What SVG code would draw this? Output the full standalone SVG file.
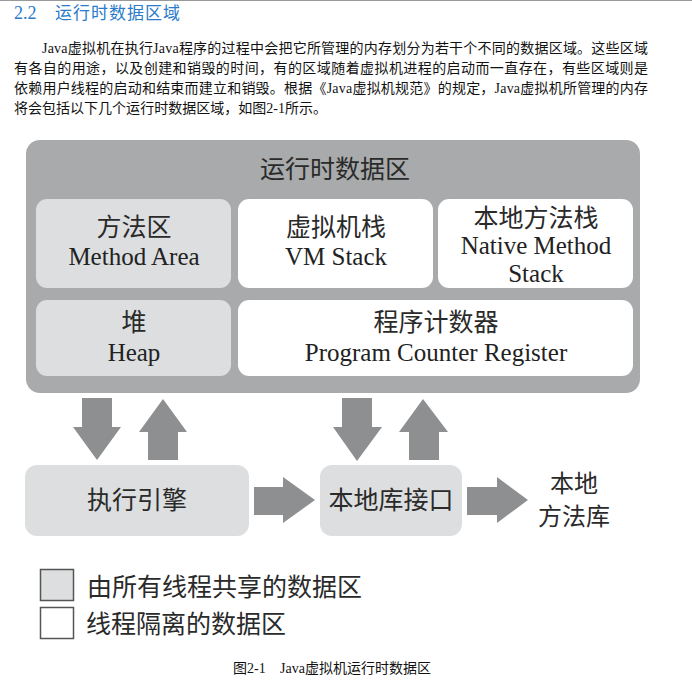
<svg xmlns="http://www.w3.org/2000/svg" width="692" height="686" viewBox="0 0 692 686">
<style>
.serif{font-family:"Liberation Serif","Noto Sans CJK SC",serif;fill:#222}
.cjk{font-family:"Noto Sans CJK SC",sans-serif;fill:#2a2a2a}
.para{font-family:"Liberation Serif","Noto Sans CJK SC",serif;font-size:14px;fill:#111}
.lbl{font-size:25px;text-anchor:middle}
.shared{fill:#dcdedf}
.private{fill:#ffffff}
.arrow{fill:#8e8f91}
</style>
<rect width="692" height="686" fill="#ffffff"/>
<line x1="0" y1="0.5" x2="692" y2="0.5" stroke="#999" stroke-width="1"/>
<g id="header">
<text x="14" y="19" font-family="Liberation Serif,serif" font-size="18" fill="#2b7bcc">2.2</text>
<text x="55" y="19" font-family="Noto Sans CJK SC,sans-serif" font-size="17" fill="#2b7bcc" letter-spacing="1">运行时数据区域</text>
</g>
<g id="paragraph" class="para">
<text x="42" y="53" textLength="606" lengthAdjust="spacing">Java虚拟机在执行Java程序的过程中会把它所管理的内存划分为若干个不同的数据区域。这些区域</text>
<text x="14" y="73" textLength="634" lengthAdjust="spacing">有各自的用途，以及创建和销毁的时间，有的区域随着虚拟机进程的启动而一直存在，有些区域则是</text>
<text x="14" y="93" textLength="634" lengthAdjust="spacing">依赖用户线程的启动和结束而建立和销毁。根据《Java虚拟机规范》的规定，Java虚拟机所管理的内存</text>
<text x="14" y="113" textLength="313" lengthAdjust="spacing">将会包括以下几个运行时数据区域，如图2-1所示。</text>
</g>
<g id="runtime-data-area">
<rect x="26" y="140" width="614" height="253" rx="14" fill="#a8aaac"/>
<text class="cjk lbl" x="335" y="178">运行时数据区</text>
</g>
<g id="method-area">
<rect class="shared" x="36" y="199" width="195" height="89" rx="11"/>
<text class="cjk lbl" x="134" y="236">方法区</text>
<text class="serif lbl" x="134" y="265">Method Area</text>
</g>
<g id="vm-stack">
<rect class="private" x="238" y="199" width="195" height="89" rx="11"/>
<text class="cjk lbl" x="336" y="236">虚拟机栈</text>
<text class="serif lbl" x="336" y="265">VM Stack</text>
</g>
<g id="native-method-stack">
<rect class="private" x="438" y="199" width="195" height="89" rx="11"/>
<text class="cjk lbl" x="536" y="227">本地方法栈</text>
<text class="serif lbl" x="536" y="254">Native Method</text>
<text class="serif lbl" x="536" y="282">Stack</text>
</g>
<g id="heap">
<rect class="shared" x="36" y="300" width="195" height="76" rx="11"/>
<text class="cjk lbl" x="134" y="331">堆</text>
<text class="serif lbl" x="134" y="361">Heap</text>
</g>
<g id="program-counter-register">
<rect class="private" x="238" y="300" width="395" height="76" rx="11"/>
<text class="cjk lbl" x="436" y="331">程序计数器</text>
<text class="serif lbl" x="436" y="361">Program Counter Register</text>
</g>
<g id="execution-engine">
<rect class="shared" x="25" y="465" width="224" height="71" rx="12"/>
<text class="cjk lbl" x="137" y="509">执行引擎</text>
</g>
<g id="native-interface">
<rect class="shared" x="320" y="465" width="142" height="71" rx="12"/>
<text class="cjk lbl" x="391" y="509">本地库接口</text>
</g>
<g id="native-library">
<text class="cjk" x="574" y="492" font-size="24" text-anchor="middle">本地</text>
<text class="cjk" x="574" y="525" font-size="24" text-anchor="middle">方法库</text>
</g>
<g id="connectors" class="arrow">
<polygon points="82,398 112,398 112,427 121,427 97,460 73,427 82,427"/>
<polygon points="163,399 187,432 178,432 178,460 148,460 148,432 139,432"/>
<polygon points="342,398 372,398 372,427 382,427 357,461 333,427 342,427"/>
<polygon points="423,399 448,432 439,432 439,460 409,460 409,432 399,432"/>
<polygon points="254,487 283,487 283,477 315,500 283,523 283,515 254,515"/>
<polygon points="467,487 497,487 497,477 528,500 497,523 497,515 467,515"/>
</g>
<g id="legend">
<rect x="40.5" y="569.5" width="33" height="31" fill="#dcdedf" stroke="#555" stroke-width="1.5"/>
<text class="cjk" x="87" y="596" font-size="25">由所有线程共享的数据区</text>
<rect x="40.5" y="607.5" width="33" height="31" fill="#ffffff" stroke="#555" stroke-width="1.5"/>
<text class="cjk" x="86" y="633" font-size="25">线程隔离的数据区</text>
</g>
<g id="caption" class="para">
<text x="233" y="673">图2-1</text>
<text x="280" y="673">Java虚拟机运行时数据区</text>
</g>
</svg>
